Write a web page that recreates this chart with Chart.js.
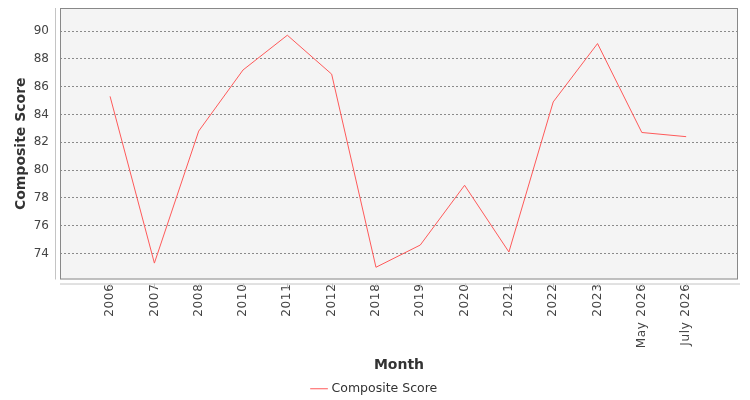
<!DOCTYPE html>
<html lang="en">
  <head>
    <meta charset="UTF-8" />
    <title>Composite Score by Month</title>
    <script src="https://cdn.jsdelivr.net/npm/chart.js"></script>
    <style>
      html, body { margin: 0; padding: 0; background: #fff; }
      #wrap { width: 750px; height: 400px; }
    </style>
  </head>
  <body>
    <div id="wrap"><canvas id="scoreChart"></canvas></div>
    <script>
      const months = ["2006", "2007", "2008", "2010", "2011", "2012", "2018",
        "2019", "2020", "2021", "2022", "2023", "May 2026", "July 2026"];
      const scores = [85.3, 73.3, 82.8, 87.2, 89.7, 86.9, 73.0,
        74.6, 78.9, 74.1, 84.9, 89.1, 82.7, 82.4];
      const yTicks = [74, 76, 78, 80, 82, 84, 86, 88, 90];

      const font = "'DejaVu Sans', sans-serif";

      // plot background, frame and the offset axis lines
      const plotFrame = {
        id: "plotFrame",
        beforeDraw(chart) {
          const { ctx, chartArea: a } = chart;
          ctx.save();
          ctx.fillStyle = "#f4f4f4";
          ctx.fillRect(a.left, a.top, a.right - a.left, a.bottom - a.top);
          ctx.restore();
        },
        afterDatasetsDraw(chart) {
          const { ctx, chartArea: a } = chart;
          const x = chart.scales.x;
          ctx.save();
          ctx.strokeStyle = "#888";
          ctx.lineWidth = 1;
          ctx.strokeRect(a.left + 0.5, a.top + 0.5, a.right - a.left - 1, a.bottom - a.top - 1);
          ctx.strokeStyle = "#c4c4c4";
          ctx.beginPath();
          ctx.moveTo(a.left - 4.5, a.top);
          ctx.lineTo(a.left - 4.5, a.bottom);
          ctx.moveTo(a.left, a.bottom + 4.5);
          ctx.lineTo(a.right + 2, a.bottom + 4.5);
          x.ticks.forEach((t) => {
            const px = Math.round(x.getPixelForValue(t.value)) + 0.5;
            ctx.moveTo(px, a.bottom + 4);
            ctx.lineTo(px, a.bottom + 8);
          });
          ctx.stroke();
          ctx.restore();
        },
      };

      const noPad = (axis, right) => {
        axis.paddingTop = 0;
        axis.paddingBottom = 0;
        axis.paddingLeft = 0;
        axis.paddingRight = right || 0;
      };

      // rotated month labels are a little spaced out in the original
      const spaceLabels = (axis) => {
        if (axis._spaced) return;
        axis._spaced = true;
        const orig = axis.drawLabels;
        axis.drawLabels = function (area) {
          const ctx = this.ctx;
          ctx.save();
          ctx.letterSpacing = "0.7px";
          orig.call(this, area);
          ctx.restore();
        };
      };

      new Chart(document.getElementById("scoreChart"), {
        type: "line",
        data: {
          datasets: [
            {
              label: "Composite Score",
              data: scores.map((v, i) => ({ x: i, y: v })),
              borderColor: "#ff5a5a",
              backgroundColor: "#ff5a5a",
              borderWidth: 1,
              pointRadius: 0,
              tension: 0,
              fill: false,
            },
          ],
        },
        options: {
          responsive: true,
          maintainAspectRatio: false,
          animation: false,
          layout: { padding: { top: 8, right: 0, left: 0, bottom: -5 } },
          plugins: {
            tooltip: { enabled: false },
            legend: {
              position: "bottom",
              labels: {
                usePointStyle: true,
                pointStyle: "line",
                boxWidth: 15,
                color: "#333",
                font: { family: font, size: 12.5 },
                padding: 2,
              },
            },
          },
          scales: {
            x: {
              type: "linear",
              min: -1.13,
              max: 14.17,
              afterBuildTicks: (axis) => {
                axis.ticks = months.map((m, i) => ({ value: i }));
              },
              afterFit: (axis) => {
                axis.height = 101;
                noPad(axis, 12);
                spaceLabels(axis);
              },
              grid: { display: false, drawTicks: false },
              border: { display: false },
              ticks: {
                autoSkip: false,
                minRotation: 90,
                maxRotation: 90,
                padding: 4,
                color: "#444",
                font: { family: font, size: 12 },
                callback: (v) => months[v],
              },
              title: {
                display: true,
                text: "Month",
                color: "#333",
                font: { family: font, size: 14, weight: "bold" },
                padding: { top: 4, bottom: 7 },
              },
            },
            y: {
              min: 72.12,
              max: 91.66,
              afterBuildTicks: (axis) => {
                axis.ticks = yTicks.map((v) => ({ value: v }));
              },
              afterFit: (axis) => { axis.width = 60; noPad(axis); },
              grid: {
                color: "#8a8a8a",
                lineWidth: 1,
                drawTicks: false,
              },
              border: { display: false, dash: [2, 2] },
              ticks: {
                padding: 11,
                color: "#444",
                font: { family: font, size: 12 },
              },
              title: {
                display: true,
                text: "Composite Score",
                color: "#333",
                font: { family: font, size: 14, weight: "bold" },
                padding: { top: 13, bottom: 0 },
              },
            },
          },
        },
        plugins: [plotFrame],
      });
    </script>
  </body>
</html>
